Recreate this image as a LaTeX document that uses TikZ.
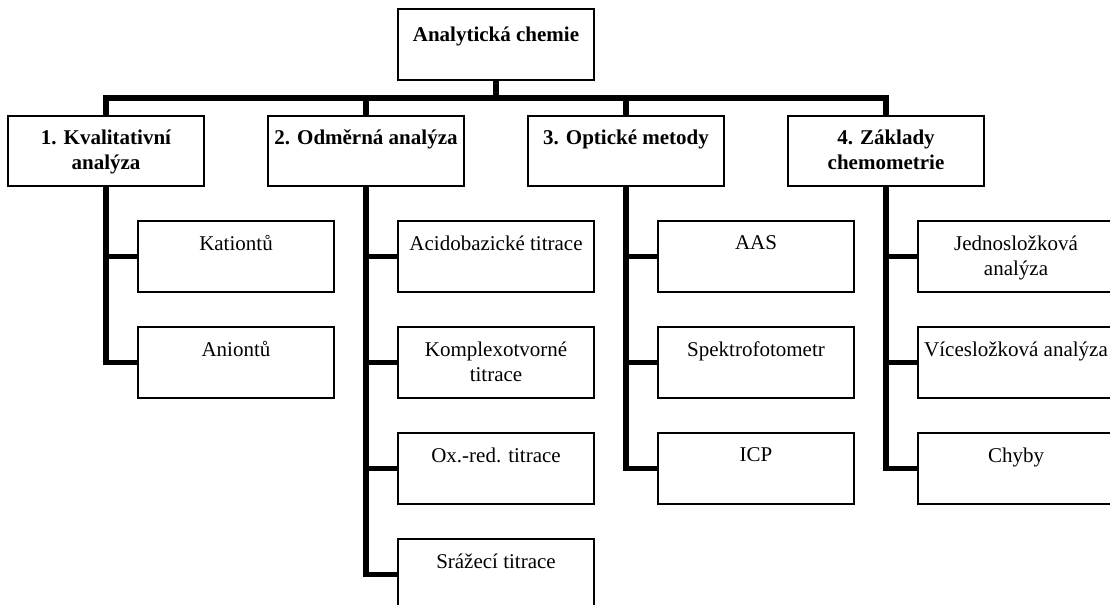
\documentclass[tikz,border=0pt]{standalone}
\usepackage{fontspec}
\setmainfont{Liberation Serif}

\begin{document}
\begin{tikzpicture}[x = 0.75pt, y = -0.75pt,
	box/.style = {draw = black, line width = 1.4pt, minimum width = 147pt, minimum height = 53pt, inner sep = 0pt},
	txt/.style = {anchor = north, align = center, inner sep = 0pt, yshift = -11.2pt, font = \fontsize{15.75}{18.75}\selectfont},
	head/.style = {txt, font = \fontsize{15.75}{18.75}\selectfont\bfseries},
	conn/.style = {line width = 3.8pt}]
	
	\useasboundingbox (0,0) rectangle (1110,605);
	
	\node[box, label = {[head, yshift = -2.8pt]north:Analytická chemie}] (ac) at (496,44.5) {};
	\coordinate (bus) at (496,98);
	
	\node[box, label = {[head]north:1. Kvalitativní\\analýza}] (kval) at (106,151) {};
	\node[box, label = {[head]north:2. Odměrná analýza}] (odm) at (366,151) {};
	\node[box, label = {[head]north:3. Optické metody}] (opt) at (626,151) {};
	\node[box, label = {[head]north:4. Základy\\chemometrie}] (zakl) at (886,151) {};
	
	\node[box, label = {[txt]north:Kationtů}] (kat) at (236,256.5) {};
	\node[box, label = {[txt]north:Aniontů}] (ani) at (236,362.5) {};
	
	\node[box, label = {[txt]north:Acidobazické titrace}] (acid) at (496,256.5) {};
	\node[box, label = {[txt]north:Komplexotvorné\\titrace}] (kompl) at (496,362.5) {};
	\node[box, label = {[txt]north:Ox.-red. titrace}] (oxred) at (496,468.5) {};
	\node[box, label = {[txt]north:Srážecí titrace}] (sraz) at (496,574.5) {};
	
	\node[box, label = {[txt]north:AAS}] (aas) at (756,256.5) {};
	\node[box, label = {[txt]north:Spektrofotometr}] (spektr) at (756,362.5) {};
	\node[box, label = {[txt]north:ICP}] (icp) at (756,468.5) {};
	
	\node[box, label = {[txt]north:Jednosložková\\analýza}] (jedn) at (1016,256.5) {};
	\node[box, label = {[txt]north:Vícesložková analýza}] (vice) at (1016,362.5) {};
	\node[box, label = {[txt]north:Chyby}] (chyby) at (1016,468.5) {};
	
	\draw[conn] (ac.south) -- (bus) -| (kval.north);
	\draw[conn] (bus) -| (odm.north);
	\draw[conn] (bus) -| (opt.north);
	\draw[conn] (bus) -| (zakl.north);
	
	\draw[conn] (kval.south) |- (kat.west);
	\draw[conn] (kval.south) |- (ani.west);
	
	\draw[conn] (odm.south) |- (acid.west);
	\draw[conn] (odm.south) |- (kompl.west);
	\draw[conn] (odm.south) |- (oxred.west);
	\draw[conn] (odm.south) |- (sraz.west);
	
	\draw[conn] (opt.south) |- (aas.west);
	\draw[conn] (opt.south) |- (spektr.west);
	\draw[conn] (opt.south) |- (icp.west);
	
	\draw[conn] (zakl.south) |- (jedn.west);
	\draw[conn] (zakl.south) |- (vice.west);
	\draw[conn] (zakl.south) |- (chyby.west);
\end{tikzpicture}
\end{document}
